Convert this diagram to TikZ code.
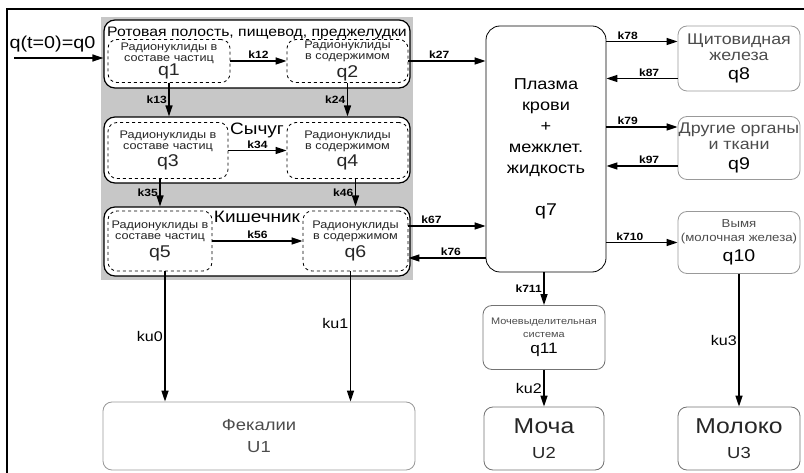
\documentclass[tikz,border=0pt]{standalone}
\usepackage{fontspec}
\setmainfont{Liberation Sans}[FakeStretch=1.15]
\usetikzlibrary{arrows.meta, positioning}
\newcommand{\fs}[2]{\fontsize{#1}{#2}\selectfont}
\newcommand{\qfont}{\fs{17}{17}}

\begin{document}
\begin{tikzpicture}[x=1pt, y=-1pt,
    grp/.style={draw, line width=1.2pt, rounded corners=11pt, fill=white, minimum width=306, inner sep=0pt},
    grptitle/.style={anchor=north, inner sep=0pt},
    pool/.style={draw, dashed, line width=0.8pt, rounded corners=9pt, fill=white, inner sep=0pt, align=center, text=black!85, font=\fs{11}{11}},
    organ/.style={draw=black!40, line width=0.8pt, rounded corners=9pt, fill=white, inner sep=0pt, align=center, text=black!70},
    flow/.style={-{Triangle[length=11pt, width=7pt]}, line width=1.5pt},
    lbl/.style={font=\bfseries\fs{10.5}{10}, inner sep=1.5pt},
    klbl/.style={font=\fs{14}{14}, inner sep=1.5pt}
]
    \useasboundingbox (0,0) rectangle (804,473);
    % frame
    \draw[line width=1.2pt] (7,473) -- (7,9) -- (804,9);
    % gastrointestinal tract
    \fill[black!22] (101,17) rectangle (413,280);
    \node[grp, minimum height=68, label={[grptitle, yshift=-7pt, font=\fs{13.7}{14}]north:Ротовая полость, пищевод, преджелудки}] (g1) at (257,54) {};
    \node[grp, minimum height=66, label={[grptitle, yshift=-6pt, font=\fs{16.5}{16}]north:Сычуг}] (g2) at (257,150) {};
    \node[grp, minimum height=69, label={[grptitle, yshift=-5pt, font=\fs{16.5}{16}]north:Кишечник}] (g3) at (257,241.5) {};
    \node[pool, minimum width=122, minimum height=43] (q1) at (169,61) {Радионуклиды в\\составе частиц\\[0pt]{\qfont q1}};
    \node[pool, minimum width=121, minimum height=43] (q2) at (347.5,61) {Радионуклиды\\в содержимом\\[2pt]{\qfont q2}};
    \node[pool, minimum width=120, minimum height=56] (q3) at (168,150.5) {Радионуклиды в\\составе частиц\\[2pt]{\qfont q3}};
    \node[pool, minimum width=121, minimum height=56] (q4) at (347.5,150.5) {Радионуклиды\\в содержимом\\[2pt]{\qfont q4}};
    \node[pool, minimum width=104, minimum height=60] (q5) at (160,241) {Радионуклиды в\\составе частиц\\[3pt]{\qfont q5}};
    \node[pool, minimum width=105, minimum height=60] (q6) at (355.5,241) {Радионуклиды\\в содержимом\\[3pt]{\qfont q6}};
    % blood and organs
    \node[draw, line width=0.8pt, rounded corners=14pt, minimum width=120, minimum height=246, align=center, font=\fs{15.8}{21}] (q7) at (546,149)
        {Плазма\\крови\\+\\межклет.\\жидкость\\[21pt]{\fs{17}{21}q7}};
    \node[organ, minimum width=122, minimum height=65, font=\fs{15.5}{16}] (q8) at (739,58.5) {Щитовидная\\железа\\[3pt]{\color{black}\qfont q8}};
    \node[organ, minimum width=122, minimum height=63, font=\fs{15.5}{16}] (q9) at (739,148) {Другие органы\\и ткани\\[4pt]{\color{black}\qfont q9}};
    \node[organ, minimum width=122, minimum height=62, font=\fs{11.5}{14}] (q10) at (739,242.5) {Вымя\\(молочная железа)\\[5pt]{\color{black}\fs{17}{17}q10}};
    \node[organ, draw=black!55, minimum width=122, minimum height=64, font=\fs{9.5}{13}] (q11) at (544,337.5) {Мочевыделительная\\система\\[3pt]{\color{black}\fs{15}{15}q11}};
    % outputs
    \node[organ, minimum width=312, minimum height=68, font=\fs{16}{22}] (U1) at (259,436) {Фекалии\\U1};
    \node[organ, draw=black!55, minimum width=120, minimum height=63, text=black!85, font=\fs{16}{25}] (U2) at (544,438.5) {{\fs{21.5}{25}Моча}\\U2};
    \node[organ, draw=black!55, minimum width=122, minimum height=63, text=black!85, font=\fs{16}{25}] (U3) at (739,438.5) {{\fs{21.5}{25}Молоко}\\U3};
    % intake
    \coordinate (src) at (14,58);
    \draw[flow] (src) -- (src -| g1.west) node[pos=0.43, above=5pt, inner sep=0pt, font=\fs{17.2}{17}] {q(t=0)=q0};
    % transfers
    \draw[flow] (q1.east) -- (q2.west) node[lbl, midway, above] {k12};
    \draw[flow] (q1.south) -- (q1.south |- g2.north) node[lbl, midway, left] {k13};
    \draw[flow] (q2.south) -- (q2.south |- g2.north) node[lbl, midway, left] {k24};
    \draw[flow] (q2.east) -- (q2.east -| q7.west) node[lbl, pos=0.4, above] {k27};
    \draw[flow] (q3.east) -- (q4.west) node[lbl, midway, above] {k34};
    \draw[flow] (q5.north |- q3.south) -- (q5.north |- g3.north) node[lbl, midway, left] {k35};
    \draw[flow] (q6.north |- q4.south) -- (q6.north |- g3.north) node[lbl, midway, left] {k46};
    \draw[flow] (q5.east) -- (q6.west) node[lbl, midway, above] {k56};
    \draw[flow] ([yshift=15pt]q6.east) -- ([yshift=15pt]q6.east -| q7.west) node[lbl, pos=0.3, above] {k67};
    \draw[flow] ([yshift=-17pt]q6.east -| q7.west) -- ([yshift=-17pt]q6.east) node[lbl, pos=0.45, above] {k76};
    \draw[flow] ([yshift=17pt]q8.west -| q7.east) -- ([yshift=17pt]q8.west) node[lbl, pos=0.3, above] {k78};
    \draw[flow] ([yshift=-20pt]q8.west) -- ([yshift=-20pt]q8.west -| q7.east) node[lbl, pos=0.4, above] {k87};
    \draw[flow] ([yshift=21pt]q9.west -| q7.east) -- ([yshift=21pt]q9.west) node[lbl, pos=0.3, above] {k79};
    \draw[flow] ([yshift=-18pt]q9.west) -- ([yshift=-18pt]q9.west -| q7.east) node[lbl, pos=0.4, above] {k97};
    \draw[flow] (q10.west -| q7.east) -- (q10.west) node[lbl, pos=0.33, above] {k710};
    \draw[flow] (q7.south -| q11.north) -- (q11.north) node[lbl, midway, left] {k711};
    % excretion
    \draw[flow] ([xshift=5pt]q5.south) -- ([xshift=5pt]q5.south |- U1.north) node[klbl, midway, left] {ku0};
    \draw[flow] ([xshift=-5pt]q6.south) -- ([xshift=-5pt]q6.south |- U1.north) node[klbl, pos=0.4, left] {ku1};
    \draw[flow] (q11.south) -- (U2.north) node[klbl, midway, left] {ku2};
    \draw[flow] (q10.south) -- (q10.south |- U3.north) node[klbl, midway, left] {ku3};
\end{tikzpicture}
\end{document}
